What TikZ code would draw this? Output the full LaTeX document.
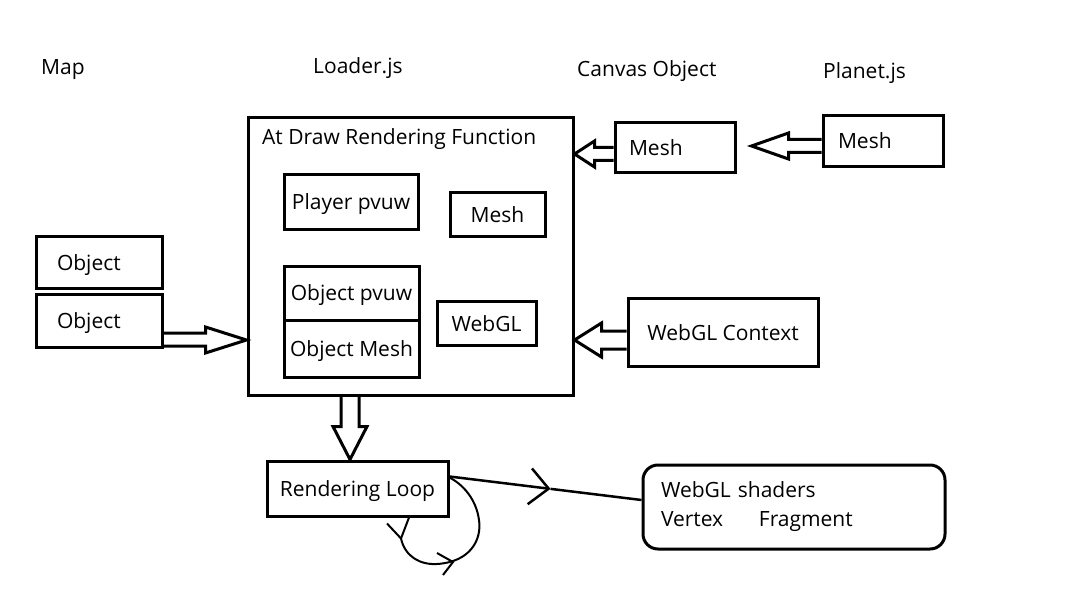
\documentclass[tikz,border=0pt]{standalone}
\usepackage{fontspec}
\setmainfont{Open Sans}
\usetikzlibrary{arrows.meta,calc}
\newcommand\lblfont{\fontsize{21}{29}\selectfont}
\begin{document}
\begin{tikzpicture}[x=1pt,y=-1pt,
  box/.style={draw, line width=3pt, inner sep=0pt, font=\lblfont},
  captext/.style={text height=15pt, text depth=0pt},
  txt/.style={font=\lblfont, inner sep=0pt},
  hollow/.style={draw, line width=3pt, line join=miter},
  conn/.style={draw, line width=2.5pt},
  loopline/.style={draw, line width=2pt}]
\useasboundingbox (0,0) rectangle (1076,612);
% top labels
\node[txt, anchor=base west] (map) at (41,75) {Map};
\node[txt, anchor=base west] (loader) at (313,74) {Loader.js};
\node[txt, anchor=base west] (canvas) at (577,77) {Canvas Object};
\node[txt, anchor=base west] (planet) at (823,79) {Planet.js};
% main box
\node[box, minimum width=325pt, minimum height=277pt] (main) at (410.5,256.5) {};
\node[txt, anchor=base west] (title) at (262,145) {At Draw Rendering Function};
\node[box, captext, minimum width=134pt, minimum height=55pt] (pp) at (351,202.5) {Player pvuw};
\node[box, captext, minimum width=95pt, minimum height=44pt] (imesh) at (497.5,215) {Mesh};
\node[box, captext, minimum width=135pt, minimum height=53pt] (op) at (351.5,293.5) {Object pvuw};
\node[box, captext, minimum width=135pt, minimum height=57pt] (om) at (351.5,348.5) {Object Mesh};
\node[box, captext, minimum width=99pt, minimum height=43pt] (wgl) at (486.5,323.5) {WebGL};
% left objects
\node[box, captext, minimum width=126pt, minimum height=52pt, align=left, inner xsep=21pt, text width=84pt] (obj1) at (99,263) {Object};
\node[box, captext, minimum width=126pt, minimum height=52pt, align=left, inner xsep=21pt, text width=84pt] (obj2) at (99,321) {Object};
% right side
\node[box, captext, minimum width=120pt, minimum height=50pt, align=left, inner xsep=14pt, text width=92pt] (cmesh) at (675,148) {Mesh};
\node[box, captext, minimum width=120pt, minimum height=51pt, align=left, inner xsep=15pt, text width=90pt] (pmesh) at (883,141.5) {Mesh};
\node[box, captext, minimum width=190pt, minimum height=67pt] (ctx) at (723,332.5) {WebGL Context};
% bottom
\node[box, captext, minimum width=181pt, minimum height=55pt] (rl) at (357.5,488.5) {Rendering Loop};
\node[box, rounded corners=15pt, minimum width=302pt, minimum height=84pt, align=left, inner xsep=18pt, text width=266pt] (sh) at (794,507) {WebGL shaders\\\makebox[98pt][l]{Vertex}Fragment};
% hollow arrows
\coordinate (a1) at ($(main.west |- obj2.east)+(0,19)$);
\draw[hollow] ($(obj2.east |- a1)+(0,-7)$) -- ($(a1)+(-41,-7)$) -- ($(a1)+(-41,-13)$) -- (a1) -- ($(a1)+(-41,13)$) -- ($(a1)+(-41,6)$) -- ($(obj2.east |- a1)+(0,6)$);
\coordinate (a2) at ($(main.east |- cmesh.east)+(0,6)$);
\draw[hollow] ($(cmesh.west |- a2)+(0,-6.5)$) -- ($(a2)+(20,-6.5)$) -- ($(a2)+(20,-13)$) -- (a2) -- ($(a2)+(20,13)$) -- ($(a2)+(20,6.5)$) -- ($(cmesh.west |- a2)+(0,6.5)$);
\coordinate (a3) at ($(cmesh.east |- pmesh.west)+(15,4.5)$);
\draw[hollow] ($(pmesh.west |- a3)+(0,-6.5)$) -- ($(a3)+(37,-6.5)$) -- ($(a3)+(37,-13)$) -- (a3) -- ($(a3)+(37,13)$) -- ($(a3)+(37,6.5)$) -- ($(pmesh.west |- a3)+(0,6.5)$);
\coordinate (a4) at ($(main.east |- ctx.west)+(0,7.5)$);
\draw[hollow] ($(ctx.west |- a4)+(0,-9)$) -- ($(a4)+(27,-9)$) -- ($(a4)+(27,-17)$) -- (a4) -- ($(a4)+(27,17)$) -- ($(a4)+(27,9)$) -- ($(ctx.west |- a4)+(0,9)$);
\coordinate (a5) at ($(rl.north)+(-7.5,0)$);
\draw[hollow] ($(main.south -| a5)+(-9,0)$) -- ($(a5)+(-9,-33)$) -- ($(a5)+(-17,-33)$) -- (a5) -- ($(a5)+(17,-33)$) -- ($(a5)+(9,-33)$) -- ($(main.south -| a5)+(9,0)$);
% line to shaders
\coordinate (l1) at ($(rl.north east)+(0,17)$);
\coordinate (l2) at ($(sh.west)+(0,-7)$);
\coordinate (lm) at ($(l1)!0.526!(l2)$);
\draw[conn, -{Straight Barb[length=19pt,width=36pt]}] (l1) -- (lm);
\draw[conn] (lm) -- (l2);
% self loop
\coordinate (s1) at ($(rl.south)+(51.5,0)$);
\coordinate (s2) at ($(rl.north east)+(0,18)$);
\draw[loopline] (s1) -- ++(-8,21) .. controls ++(4,18) and (420,565) .. (437,564) .. controls (470,562) and (482,540) .. (479,520) .. controls (476,498) and (462,484) .. (s2);
\draw[loopline] ($(s1)+(-22,6)$) -- ($(s1)+(-8,21)$);
\draw[loopline] (437,553) -- (453,562) -- (443,575);
\end{tikzpicture}
\end{document}
